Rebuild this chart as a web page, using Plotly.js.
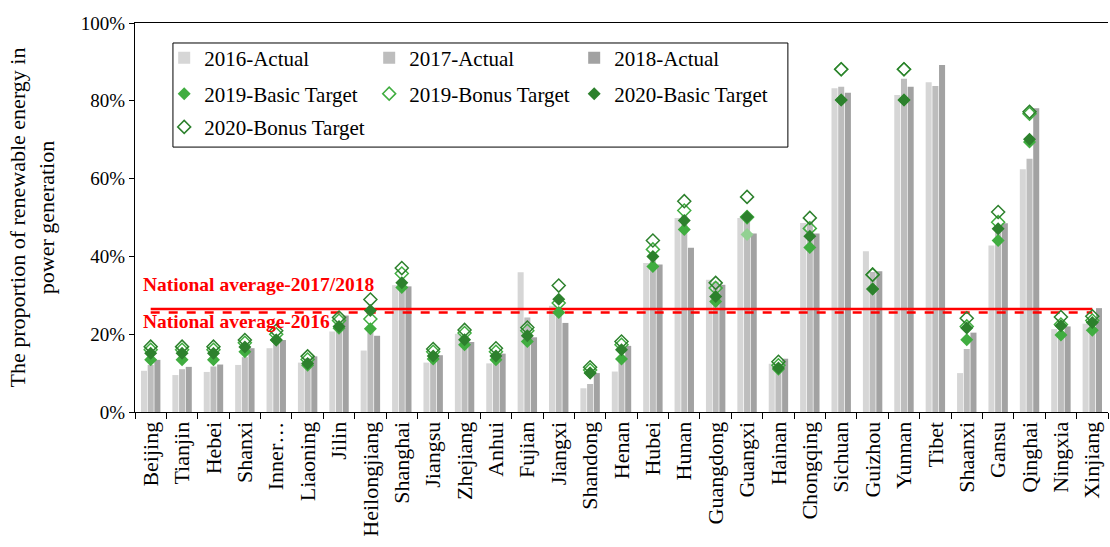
<!DOCTYPE html>
<html>
<head>
<meta charset="utf-8">
<script src="https://cdn.plot.ly/plotly-3.0.1.min.js"></script>
<style>
  body { margin: 0; background: #fff; }
  #chart { width: 1110px; height: 547px; }
</style>
</head>
<body>
<div id="chart"></div>
<script>
var provinces = ['Beijing','Tianjin','Hebei','Shanxi','Inner\u2026','Liaoning','Jilin','Heilongjiang','Shanghai','Jiangsu',
  'Zhejiang','Anhui','Fujian','Jiangxi','Shandong','Henan','Hubei','Hunan','Guangdong','Guangxi',
  'Hainan','Chongqing','Sichuan','Guizhou','Yunnan','Tibet','Shaanxi','Gansu','Qinghai','Ningxia','Xinjiang'];

// shares in %
var actual2016 = [10.6, 9.5, 10.3, 12.1, 16.4, 12.7, 20.7, 15.8, 32.6, 12.7, 20.1, 12.5, 35.9, 27.3, 6.1, 10.4,
  38.3, 49.9, 34.0, 49.9, 12.4, 48.6, 83.2, 41.3, 81.5, 84.8, 10.0, 42.8, 62.4, 21.3, 22.7];
var actual2017 = [12.1, 11.0, 11.7, 14.1, 18.3, 13.8, 23.0, 22.0, 32.7, 13.5, 19.5, 14.0, 24.3, 26.5, 7.2, 14.0,
  39.0, 50.5, 33.5, 50.0, 12.5, 48.9, 83.6, 36.0, 85.7, 83.8, 16.2, 47.0, 65.1, 19.5, 22.5];
var actual2018 = [13.4, 11.6, 12.2, 16.4, 18.5, 14.3, 24.8, 19.6, 32.3, 14.6, 18.0, 15.0, 19.2, 22.9, 10.0, 17.0,
  37.9, 42.2, 32.7, 45.9, 13.7, 45.9, 82.1, 36.2, 83.6, 89.2, 20.4, 48.5, 78.1, 22.0, 26.7];

var basic2019 = [13.4, 13.4, 13.4, 15.5, 18.5, 12.0, 21.5, 21.4, 32.0, 13.6, 17.3, 13.4, 18.1, 25.6, 10.0, 13.6,
  37.4, 46.9, 28.4, 45.6, 11.0, 42.3, 80.2, 31.6, 80.2, null, 18.6, 44.1, 69.4, 19.8, 21.0];
var bonus2019 = [16.0, 16.0, 16.0, 17.8, 20.0, 13.5, 23.5, 23.9, 35.6, 15.5, 20.3, 15.5, 20.9, 28.0, 10.8, 17.3,
  41.8, 51.8, 31.9, 50.1, 12.0, 47.2, 88.1, 35.3, 88.1, null, 22.0, 48.8, 76.7, 22.5, 23.5];
var basic2020 = [15.1, 15.1, 15.1, 16.7, 18.5, 12.5, 22.0, 26.1, 33.2, 14.4, 18.6, 14.4, 19.6, 29.0, 10.0, 16.0,
  40.0, 49.2, 29.7, 50.1, 11.3, 45.2, 80.2, 31.6, 80.2, null, 21.6, 47.1, 70.1, 22.2, 23.0];
var bonus2020 = [16.8, 16.8, 16.8, 18.5, 20.9, 14.3, 24.3, 28.9, 37.0, 16.2, 21.1, 16.4, 21.7, 32.5, 11.5, 18.1,
  44.1, 54.2, 33.2, 55.3, 12.9, 49.9, 88.1, 35.3, 88.1, null, 24.1, 51.4, 77.2, 24.4, 24.6];

var avg2017_2018 = 26.5;
var avg2016 = 25.6;

var font = 'Liberation Serif, Times New Roman, serif';
var lightGreen = '#40ad40';
var darkGreen = '#2d812d';

// Guangxi's 2019 basic marker is drawn paler in the original
var basic2019Colors = provinces.map(function(p) { return p === 'Guangxi' ? '#93d193' : lightGreen; });

var bars = [
  {name: '2016-Actual', y: actual2016, color: '#d6d6d6'},
  {name: '2017-Actual', y: actual2017, color: '#bdbdbd'},
  {name: '2018-Actual', y: actual2018, color: '#a2a2a2'}
].map(function(s) {
  return {type: 'bar', name: s.name, x: provinces, y: s.y, marker: {color: s.color}, legend: 'legend'};
});

var avgLines = [
  {type: 'scatter', mode: 'lines', x: [provinces[0], provinces[provinces.length - 1]], y: [avg2017_2018, avg2017_2018],
   line: {color: '#ff0000', width: 2.5}, showlegend: false},
  {type: 'scatter', mode: 'lines', x: [provinces[0], provinces[provinces.length - 1]], y: [avg2016, avg2016],
   line: {color: '#ff0000', width: 2.5, dash: 'dash'}, showlegend: false}
];

var targets = [
  {type: 'scatter', mode: 'markers', name: '2019-Basic Target', x: provinces, y: basic2019, legend: 'legend2',
   marker: {symbol: 'diamond', size: 10, color: basic2019Colors}},
  {type: 'scatter', mode: 'markers', name: '2019-Bonus Target', x: provinces, y: bonus2019, legend: 'legend2',
   marker: {symbol: 'diamond-open', size: 10, color: lightGreen, line: {width: 1.5}}},
  {type: 'scatter', mode: 'markers', name: '2020-Basic Target', x: provinces, y: basic2020, legend: 'legend2',
   marker: {symbol: 'diamond', size: 10, color: darkGreen}},
  {type: 'scatter', mode: 'markers', name: '2020-Bonus Target', x: provinces, y: bonus2020, legend: 'legend3',
   marker: {symbol: 'diamond-open', size: 10, color: darkGreen, line: {width: 1.5}}}
];

var data = bars.concat(avgLines, targets);

function legendRow(y) {
  return {
    orientation: 'h', x: 0.03, xanchor: 'left', y: y, yanchor: 'middle',
    entrywidth: 160, entrywidthmode: 'pixels', traceorder: 'normal',
    bgcolor: 'rgba(0,0,0,0)', borderwidth: 0,
    font: {family: font, size: 21, color: '#000'}
  };
}

var layout = {
  width: 1110,
  height: 547,
  margin: {l: 135, r: 2, t: 23, b: 135, autoexpand: false},
  paper_bgcolor: '#fff',
  plot_bgcolor: '#fff',
  font: {family: font, size: 19, color: '#000'},
  barmode: 'group',
  bargap: 0.36,
  bargroupgap: 0.1,
  xaxis: {
    type: 'category',
    range: [-0.5, provinces.length - 0.5],
    automargin: false,
    tickangle: -90,
    ticks: 'outside',
    tickson: 'boundaries',
    ticklen: 6,
    tickcolor: '#000',
    showline: true,
    mirror: true,
    linecolor: '#000',
    linewidth: 1,
    showgrid: false,
    tickfont: {family: font, size: 22, color: '#000'}
  },
  yaxis: {
    range: [0, 100],
    automargin: true,
    dtick: 20,
    ticksuffix: '%',
    ticks: 'outside',
    ticklen: 5,
    tickcolor: '#000',
    showline: true,
    linecolor: '#000',
    linewidth: 1,
    showgrid: false,
    zeroline: false,
    tickfont: {family: font, size: 19, color: '#000'},
    title: {text: 'The proportion of renewable energy in<br>power generation', font: {family: font, size: 22}, standoff: 20}
  },
  legend: legendRow(0.91),
  legend2: legendRow(0.8175),
  legend3: legendRow(0.732),
  shapes: [
    {type: 'rect', xref: 'paper', yref: 'paper', x0: 0.039, x1: 0.671, y0: 0.681, y1: 0.9486,
     line: {color: '#000', width: 1}, fillcolor: 'rgba(0,0,0,0)', layer: 'above'}
  ],
  annotations: [
    {text: '<b>National average-2017/2018</b>', xref: 'paper', yref: 'y', x: 0.006, y: 32.7,
     xanchor: 'left', yanchor: 'middle', showarrow: false, font: {family: font, size: 19.5, color: '#ff0000'}},
    {text: '<b>National average-2016</b>', xref: 'paper', yref: 'y', x: 0.006, y: 23.3,
     xanchor: 'left', yanchor: 'middle', showarrow: false, font: {family: font, size: 19.5, color: '#ff0000'}}
  ]
};

Plotly.newPlot('chart', data, layout, {staticPlot: true});
</script>
</body>
</html>
